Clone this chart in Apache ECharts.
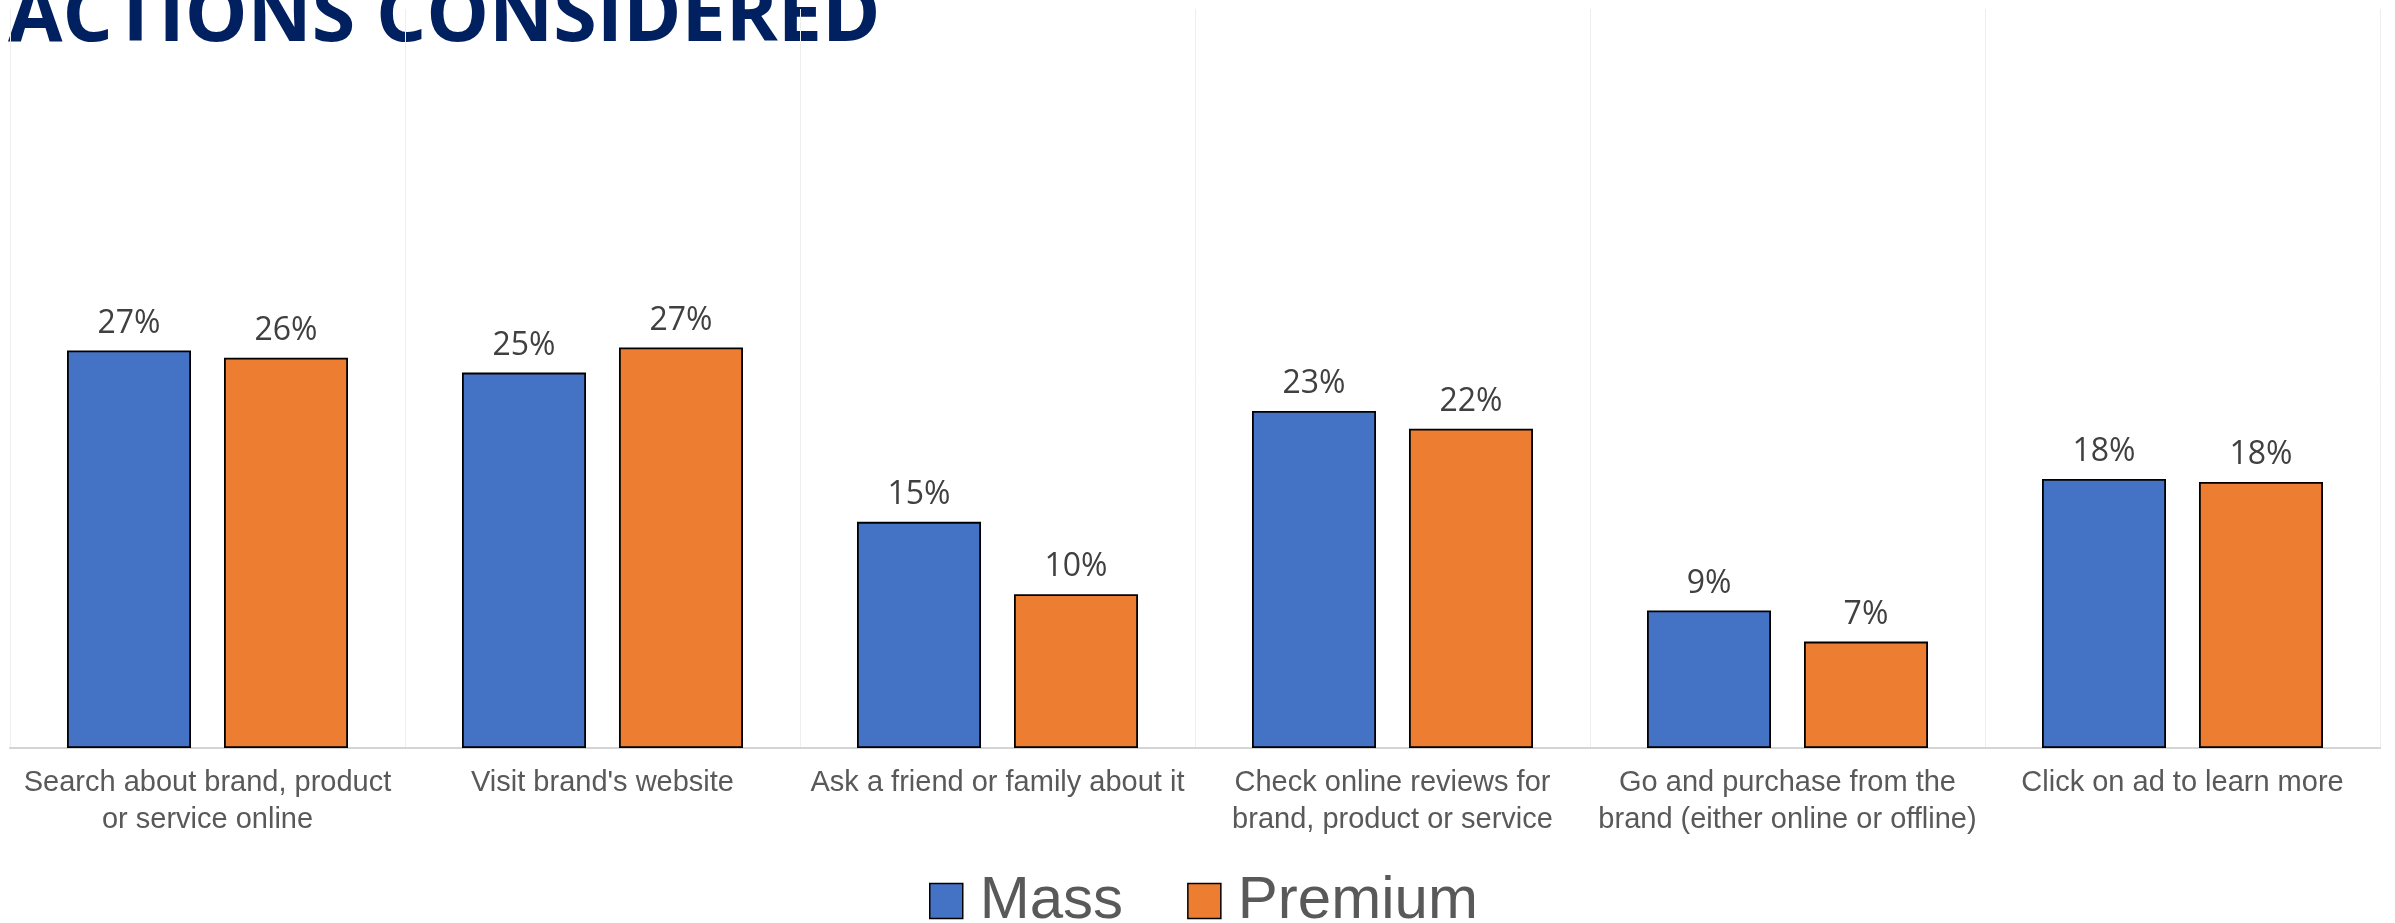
<!DOCTYPE html>
<html>
<head>
<meta charset="utf-8">
<script src="https://cdn.jsdelivr.net/npm/echarts@6/dist/echarts.min.js"></script>
<style>
  html, body { margin: 0; padding: 0; background: #ffffff; }
  #chart { width: 2395px; height: 923px; }
</style>
</head>
<body>
<div id="chart"></div>
<script>
// Actions considered after seeing an ad: share of respondents (%)
const titleText = 'ACTIONS CONSIDERED';
const categories = [
  'Search about brand, product\nor service online',
  "Visit brand's website",
  'Ask a friend or family about it',
  'Check online reviews for\nbrand, product or service',
  'Go and purchase from the\nbrand (either online or offline)',
  'Click on ad to learn more'
];
const seriesNames = ['Mass', 'Premium'];
const massValues = [26.9, 25.4, 15.3, 22.8, 9.3, 18.2];
const premiumValues = [26.4, 27.1, 10.4, 21.6, 7.2, 18.0];

const chart = echarts.init(document.getElementById('chart'), null, { renderer: 'canvas' });

// Fit the heading to its measured width
const titleFont = '"Open Sans", sans-serif';
const ctx = document.createElement('canvas').getContext('2d');
ctx.font = 'bold 100px ' + titleFont;
const titleSize = Math.round(100 * 876 / ctx.measureText(titleText).width);

const labelFont = '"Liberation Sans", Arial, sans-serif';

const barStyle = (color) => ({ color: color, borderColor: '#000000', borderWidth: 1.8 });

const valueLabel = {
  show: true,
  position: 'top',
  distance: 11,
  fontFamily: '"Open Sans", sans-serif',
  fontSize: 32,
  color: '#404040',
  formatter: (p) => Math.round(p.value) + '%'
};

chart.setOption({
  animation: false,
  backgroundColor: '#ffffff',
  grid: { left: 10, right: 15, top: 9, bottom: 175, containLabel: false },
  graphic: [{
    type: 'group',
    z: 100,
    children: [
      { type: 'rect', shape: { x: 0, y: 0, width: 905, height: 42 }, style: { fill: '#ffffff' } },
      {
        type: 'text',
        x: 8,
        y: 49 - 0.388 * titleSize,
        style: {
          text: titleText,
          font: 'bold ' + titleSize + 'px ' + titleFont,
          fill: '#002060',
          verticalAlign: 'middle',
          align: 'left'
        }
      }
    ]
  }],
  legend: {
    data: seriesNames,
    top: 866,
    left: 924,
    padding: 5,
    itemWidth: 33,
    itemHeight: 35,
    itemGap: 64,
    icon: 'rect',
    itemStyle: { borderColor: '#000000', borderWidth: 1.5 },
    textStyle: {
      fontFamily: labelFont,
      fontSize: 60,
      color: '#595959',
      padding: [0, 0, 0, 12]
    }
  },
  xAxis: {
    type: 'category',
    data: categories,
    boundaryGap: true,
    axisTick: { show: false },
    axisLine: { show: true, lineStyle: { color: '#d4d4d4', width: 2 } },
    splitLine: { show: true, lineStyle: { color: '#eeeeee', width: 1 } },
    axisLabel: {
      interval: 0,
      margin: 16,
      fontFamily: labelFont,
      fontSize: 29,
      lineHeight: 37,
      color: '#595959',
      align: 'center'
    }
  },
  yAxis: {
    type: 'value',
    min: 0,
    max: 50,
    show: false,
    splitLine: { show: false }
  },
  series: [
    {
      name: seriesNames[0],
      type: 'bar',
      data: massValues,
      barWidth: 124,
      barGap: '26.6%',
      itemStyle: barStyle('#4472C4'),
      label: valueLabel
    },
    {
      name: seriesNames[1],
      type: 'bar',
      data: premiumValues,
      barWidth: 124,
      barGap: '26.6%',
      itemStyle: barStyle('#ED7D31'),
      label: valueLabel
    }
  ]
});
</script>
</body>
</html>
